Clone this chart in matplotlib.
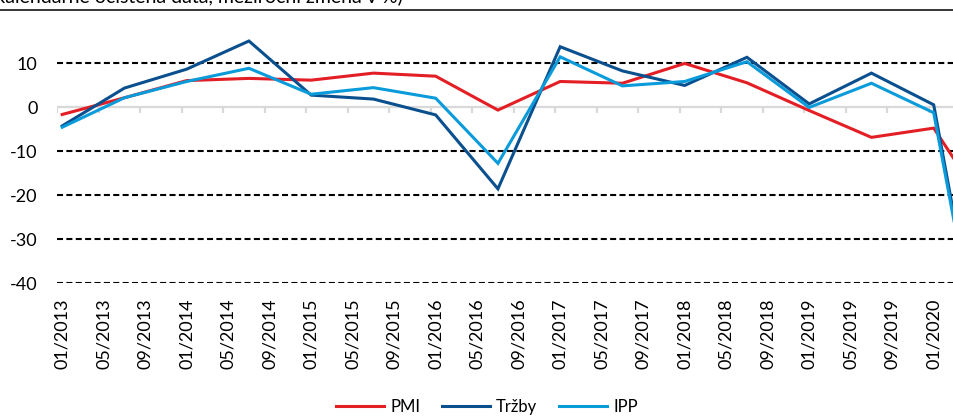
import matplotlib
matplotlib.use("Agg")
import matplotlib.pyplot as plt
from matplotlib.lines import Line2D

plt.rcParams['font.family'] = ['Lato', 'DejaVu Sans']

# half-year observations (month/year), last point is the spring 2020 drop
dates = ["01/2013", "07/2013", "01/2014", "07/2014", "01/2015", "07/2015",
         "01/2016", "07/2016", "01/2017", "07/2017", "01/2018", "07/2018",
         "01/2019", "07/2019", "01/2020", "04/2020"]
pmi = [-1.7, 2.1, 6.0, 6.5, 6.1, 7.7, 7.0, -0.7, 5.8, 5.4, 9.9, 5.5,
       -0.8, -6.9, -4.8, -15.5]
trzby = [-4.3, 4.3, 8.6, 15.0, 2.7, 1.8, -1.8, -18.6, 13.7, 8.2, 4.9, 11.3,
         0.7, 7.7, 0.5, -38.0]
ipp = [-4.6, 2.1, 5.8, 8.8, 2.9, 4.4, 2.0, -12.8, 11.4, 4.8, 5.8, 10.3,
       -0.1, 5.4, -1.3, -39.0]

series_names = ["PMI", "Tržby", "IPP"]
series_colors = ["#E31E24", "#0A4F8E", "#0A9BDA"]
y_grid = [10, -10, -20, -30, -40]
y_ticks = [10, 0, -10, -20, -30, -40]
title = "(kalendářně očištěná data, meziroční změna v %)"


def month_index(s):
    m, y = s.split("/")
    return (int(y) - 2013) * 12 + int(m) - 1


x = [month_index(d) for d in dates]
tick_pos = list(range(0, 85, 4))
tick_labels = ["%02d/%d" % (p % 12 + 1, 2013 + p // 12) for p in tick_pos]

fig = plt.figure(figsize=(9.54, 4.17), dpi=100)
# axes runs past the right edge of the picture (the original is cropped)
ax = fig.add_axes([57 / 954, (417 - 283) / 417, 996 / 954, 264 / 417])
ax.set_xlim(-0.5, 95.5)
ax.set_ylim(-40, 20)

for v in y_grid:
    ax.axhline(v, color="black", lw=1.5, linestyle=(0, (2.9, 1.6)), zorder=1)
ax.axhline(0, color="#D9D9D9", lw=1.6, zorder=1)
ax.vlines([p - 0.5 for p in range(0, 97, 4)], -1.4, 0, color="#D9D9D9",
          lw=1.6, zorder=1)

for vals, name, col in zip([pmi, trzby, ipp], series_names, series_colors):
    ax.plot(x, vals, color=col, lw=2.2, label=name, zorder=3,
            solid_joinstyle="miter")

for s in ax.spines.values():
    s.set_visible(False)
ax.set_yticks(y_ticks)
ax.set_yticklabels([str(v) for v in y_ticks])
ax.set_xticks(tick_pos)
ax.set_xticklabels(tick_labels, rotation=90, va="top", ha="center")
ax.tick_params(axis="y", length=0, pad=14, labelsize=13)
ax.tick_params(axis="x", length=0, pad=11, labelsize=13)

# header rule and clipped subtitle (the top of the original is cropped)
fig.add_artist(Line2D([0, 1], [1 - 10 / 417, 1 - 10 / 417], color="black",
                      lw=1.1, transform=fig.transFigure))
fig.text(403 / 954, 1 - 2.5 / 417, title, ha="right", va="baseline",
         fontsize=14)

handles = [Line2D([], [], color=c, lw=2.2) for c in series_colors]
fig.legend(handles, series_names, loc="center", ncol=3,
           bbox_to_anchor=(487 / 954, 10 / 417), frameon=False, fontsize=12,
           handlelength=2.9, handletextpad=0.35, columnspacing=1.3)

fig.savefig("out.png", dpi=100)
